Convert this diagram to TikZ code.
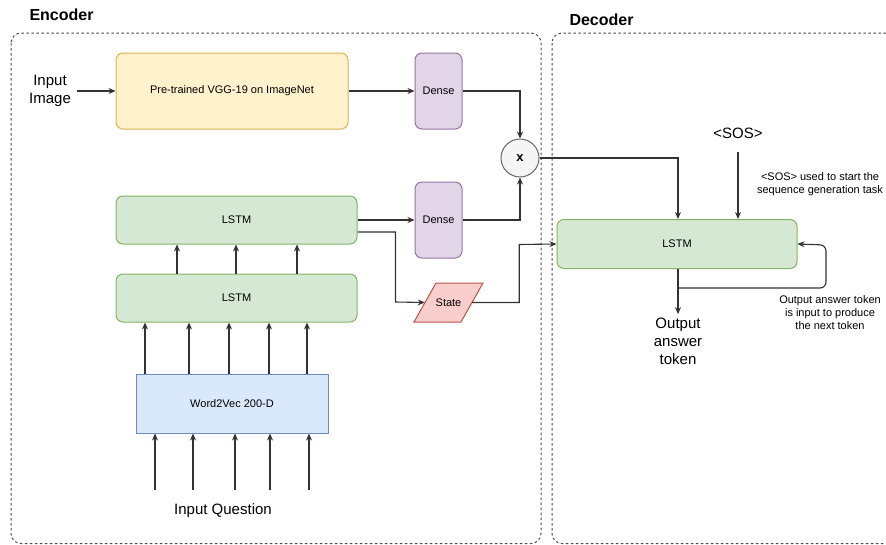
\documentclass[tikz,border=0pt]{standalone}
\usepackage{fontspec}
\setmainfont{Liberation Sans}
\definecolor{vggfill}{HTML}{FFF2CC}
\definecolor{vggline}{HTML}{D6B656}
\definecolor{densefill}{HTML}{E1D5E7}
\definecolor{denseline}{HTML}{9673A6}
\definecolor{lstmfill}{HTML}{D5E8D4}
\definecolor{lstmline}{HTML}{82B366}
\definecolor{wordfill}{HTML}{DAE8FC}
\definecolor{wordline}{HTML}{6C8EBF}
\definecolor{statefill}{HTML}{F8CECC}
\definecolor{stateline}{HTML}{B85450}
\definecolor{wire}{HTML}{333333}
\usetikzlibrary{shapes, arrows.meta, positioning, calc}

\begin{document}
\begin{tikzpicture}[x=1pt, y=-1pt,
  block/.style={draw, rounded corners=7pt, line width=1pt, font=\fontsize{11}{13}\selectfont, inner sep=0pt},
  flow/.style={-{Stealth[length=7pt, width=6pt]}, line width=1.1pt, draw=wire},
  frame/.style={draw=black!70, dash pattern=on 2.5pt off 2.5pt, line width=1pt, rounded corners=10pt},
  label/.style={font=\fontsize{15}{18}\selectfont, align=center},
  note/.style={font=\fontsize{11}{13}\selectfont, align=center}]
  \clip (0,0) rectangle (886,544);

  % Frames
  \draw[frame] (11,33) rectangle (541,543.5);
  \draw[frame] (552,33) rectangle (900,543.5);
  \node[font=\fontsize{16}{19}\selectfont\bfseries, anchor=west] (enctitle) at (26,15) {Encoder};
  \node[font=\fontsize{16}{19}\selectfont\bfseries, anchor=west] (dectitle) at (566,20) {Decoder};

  % Image branch
  \node[label] (img) at (50,91) {Input\\Image};
  \node[block, fill=vggfill, draw=vggline, minimum width=232pt, minimum height=76pt] (vgg) at (232,91) {Pre-trained VGG-19 on ImageNet};
  \node[block, fill=densefill, draw=denseline, minimum width=47pt, minimum height=76pt] (dense1) at (438.5,91) {Dense};
  \node[circle, draw=black!60, fill=black!4, line width=1pt, minimum size=38pt, inner sep=0pt, font=\fontsize{13}{15}\selectfont\bfseries] (mult) at (520,158) {x};

  % Question branch
  \node[block, fill=lstmfill, draw=lstmline, minimum width=241pt, minimum height=48pt] (lstmtop) at (236.5,220) {LSTM};
  \node[block, fill=lstmfill, draw=lstmline, minimum width=241pt, minimum height=48pt] (lstmbot) at (236.5,298) {LSTM};
  \node[block, fill=densefill, draw=denseline, minimum width=47pt, minimum height=76pt] (dense2) at (438.5,220) {Dense};
  \draw[draw=stateline, fill=statefill, line width=1pt] (436,283) -- (483,283) -- (461,322) -- (414,322) -- cycle;
  \node[minimum width=47pt, minimum height=39pt, inner sep=0pt, font=\fontsize{11}{13}\selectfont] (state) at (448.5,302.5) {State};
  \node[block, rounded corners=0pt, fill=wordfill, draw=wordline, minimum width=192pt, minimum height=59pt] (word) at (232,403.5) {Word2Vec 200-D};
  \node[label] (question) at (223,511) {Input Question};

  % Decoder
  \node[block, fill=lstmfill, draw=lstmline, minimum width=240pt, minimum height=49pt] (lstmdec) at (677,244) {LSTM};
  \node[label] (sos) at (738,133) {<SOS>};
  \node[note] (sosnote) at (820,184) {<SOS> used to start the\\sequence generation task};
  \node[label] (answer) at (678,341) {Output\\answer\\token};
  \node[note] (loopnote) at (830,313) {Output answer token\\is input to produce\\the next token};
  \coordinate (split) at (678,288);

  % Connectors
  \draw[flow] (img.east) ++(3,0) coordinate (imgout) -- (vgg.west);
  \draw[flow] (vgg.east) -- (dense1.west);
  \draw[flow] (dense1.east) -| (mult.north);
  \draw[flow] (lstmtop.east) -- (dense2.west);
  \draw[flow] (dense2.east) -| (mult.south);
  \draw[flow] ([yshift=-12pt]lstmtop.east) -| ++(38,70) -- (state.west);
  \draw[flow] (state.east) -| ++(47,-58) -- (lstmdec.west);
  \draw[flow] (mult.east) -| ([xshift=1pt]lstmdec.north);
  \draw[flow] (sos.south) ++(0,10) -- (lstmdec.north -| sos.south);
  \draw[line width=1.1pt, draw=wire] (lstmdec.south -| split) -- (split);
  \draw[flow] (split) -- (answer.north);
  \draw[flow, rounded corners=6pt] (split) -| ++(148,-43) -- (lstmdec.east);
  \foreach \x in {177,236,297}
    \draw[flow] (lstmbot.north -| \x,0) -- (lstmtop.south -| \x,0);
  \foreach \x in {145,189,229,269,307}
    \draw[flow] (word.north -| \x,0) -- (lstmbot.south -| \x,0);
  \foreach \x in {155,193,235,270,309}
    \draw[flow] (\x,490) -- (word.south -| \x,0);
\end{tikzpicture}
\end{document}
